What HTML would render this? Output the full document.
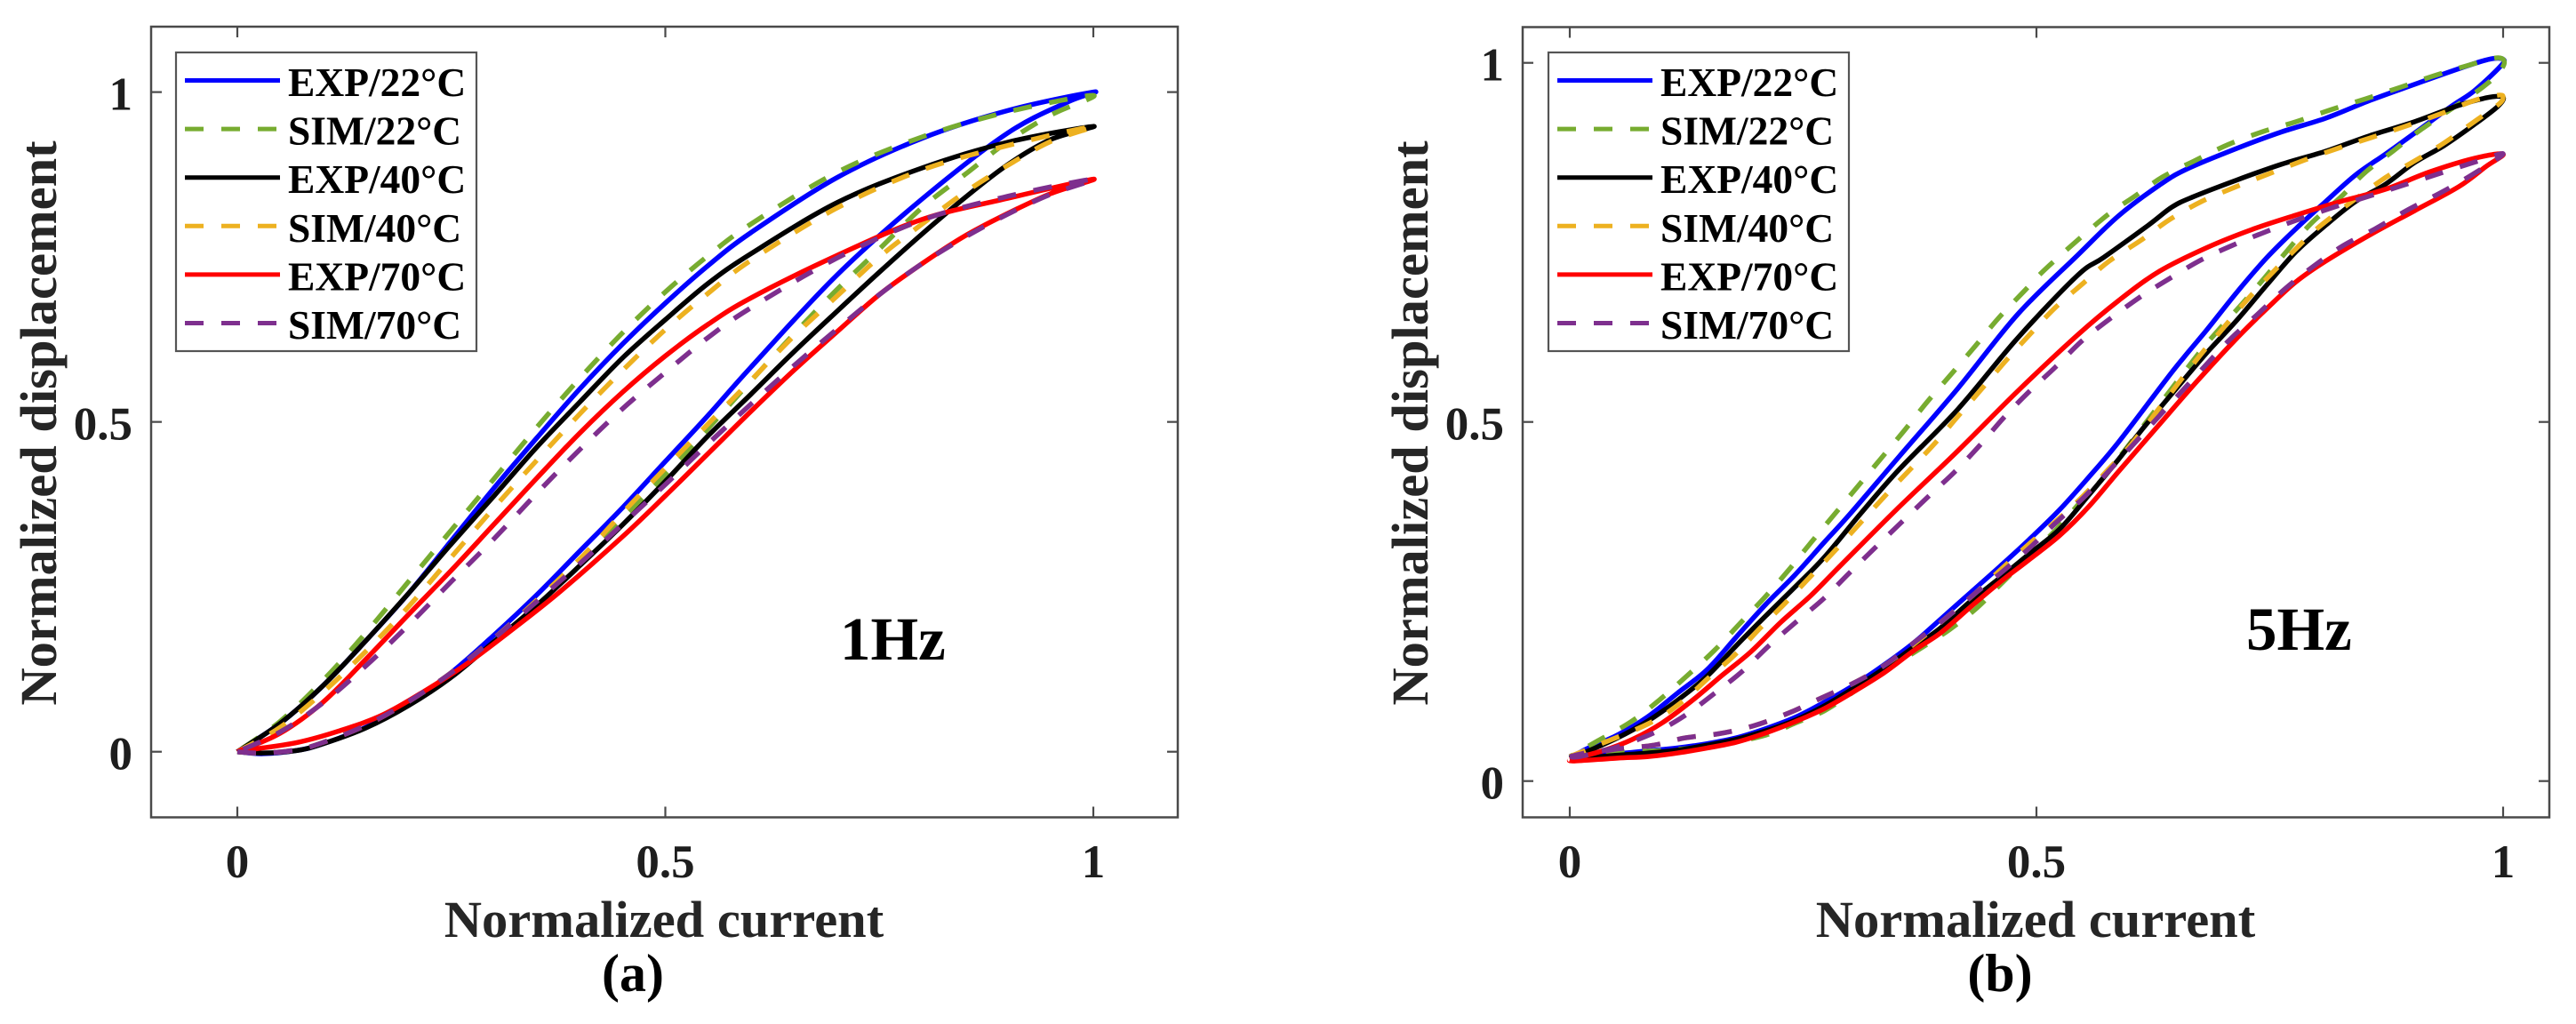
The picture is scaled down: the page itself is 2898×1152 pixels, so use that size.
<!DOCTYPE html>
<html lang="en">
<head>
<meta charset="utf-8">
<title>Normalized displacement vs normalized current</title>
<style>
html,body{margin:0;padding:0;background:#fff;}
svg{display:block;}
text{font-family:"Liberation Serif","Noto Serif CJK SC",serif;font-weight:bold;}
</style>
</head>
<body>
<svg id="figure" xmlns="http://www.w3.org/2000/svg" width="2898" height="1152" viewBox="0 0 2898 1152"></svg>
<script>
// Tick labels and legend entries
const tickValues = [0, 0.5, 1];
const seriesNames = ['EXP/22°C', 'SIM/22°C', 'EXP/40°C', 'SIM/40°C', 'EXP/70°C', 'SIM/70°C'];

// Panel (a), 1 Hz: [current, displacement], lower and upper branch of each loop
const a_exp22_lo = [[0,0],[.03,-.003],[.07,.002],[.1,.012],[.15,.037],[.2,.073],[.25,.12],[.3,.177],[.35,.238],[.4,.304],[.45,.37],[.5,.44],[.55,.51],[.6,.583],[.7,.722],[.8,.838],[.9,.938],[.97,.985],[1,1]];
const a_exp22_up = [[0,0],[.05,.043],[.1,.1],[.15,.168],[.2,.24],[.25,.32],[.3,.4],[.35,.476],[.4,.55],[.45,.618],[.5,.68],[.55,.737],[.6,.787],[.7,.87],[.8,.93],[.9,.972],[1,1]];
const a_sim22_lo = [[0,0],[.03,-.002],[.07,.003],[.1,.014],[.15,.04],[.2,.076],[.25,.12],[.3,.172],[.35,.23],[.4,.292],[.45,.354],[.5,.42],[.55,.49],[.6,.562],[.65,.633],[.7,.7],[.75,.762],[.8,.825],[.85,.875],[.9,.925],[.95,.965],[1,.995]];
const a_sim22_up = [[0,0],[.05,.046],[.1,.108],[.15,.18],[.2,.258],[.25,.336],[.3,.414],[.35,.492],[.4,.566],[.45,.635],[.5,.697],[.55,.752],[.6,.8],[.7,.878],[.8,.932],[.9,.97],[1,.995]];
const a_exp40_lo = [[0,0],[.03,-.002],[.07,.002],[.1,.012],[.15,.036],[.2,.07],[.25,.113],[.3,.167],[.35,.222],[.4,.282],[.45,.344],[.5,.41],[.55,.479],[.6,.542],[.65,.606],[.7,.667],[.75,.727],[.8,.785],[.85,.84],[.9,.89],[.95,.928],[1,.948]];
const a_exp40_up = [[0,0],[.05,.043],[.1,.1],[.15,.168],[.2,.24],[.25,.315],[.3,.388],[.35,.462],[.4,.53],[.45,.597],[.5,.655],[.55,.71],[.6,.755],[.7,.832],[.8,.885],[.9,.924],[1,.948]];
const a_sim40_lo = [[0,0],[.03,-.002],[.07,.003],[.1,.014],[.15,.04],[.2,.076],[.25,.12],[.3,.172],[.35,.23],[.4,.292],[.45,.362],[.5,.43],[.55,.497],[.6,.563],[.65,.63],[.7,.69],[.75,.75],[.8,.8],[.85,.848],[.9,.889],[.95,.925],[1,.948]];
const a_sim40_up = [[0,0],[.05,.037],[.1,.09],[.15,.152],[.2,.22],[.25,.295],[.3,.37],[.35,.442],[.4,.512],[.45,.578],[.5,.64],[.55,.695],[.6,.745],[.7,.824],[.8,.882],[.9,.919],[1,.948]];
const a_exp70_lo = [[0,0],[.02,.004],[.07,.014],[.12,.032],[.17,.056],[.22,.093],[.27,.135],[.33,.194],[.38,.246],[.45,.326],[.5,.388],[.55,.452],[.6,.516],[.65,.578],[.7,.636],[.75,.693],[.8,.74],[.85,.782],[.9,.816],[.95,.846],[1,.868]];
const a_exp70_up = [[0,0],[.05,.028],[.1,.075],[.15,.14],[.2,.208],[.25,.275],[.3,.345],[.35,.415],[.4,.483],[.45,.545],[.5,.6],[.55,.648],[.6,.688],[.7,.752],[.8,.807],[.9,.839],[1,.868]];
const a_sim70_lo = [[0,0],[.03,-.002],[.07,.003],[.1,.014],[.15,.04],[.2,.076],[.25,.12],[.3,.172],[.35,.228],[.4,.285],[.45,.345],[.5,.405],[.55,.467],[.6,.527],[.65,.585],[.7,.64],[.75,.693],[.8,.74],[.85,.78],[.9,.815],[.95,.845],[1,.868]];
const a_sim70_up = [[0,0],[.05,.03],[.1,.074],[.15,.13],[.2,.192],[.25,.258],[.3,.323],[.35,.392],[.4,.458],[.45,.52],[.5,.575],[.55,.628],[.6,.673],[.7,.748],[.8,.806],[.9,.842],[1,.868]];

// Panel (b), 5 Hz
const b_exp22_lo = [[0,.032],[.02,.036],[.051,.038],[.083,.042],[.115,.046],[.147,.052],[.178,.06],[.21,.073],[.242,.089],[.273,.11],[.305,.134],[.337,.162],[.369,.193],[.397,.225],[.429,.262],[.461,.299],[.492,.336],[.525,.378],[.556,.423],[.588,.472],[.639,.559],[.658,.59],[.683,.629],[.715,.681],[.747,.729],[.778,.769],[.81,.807],[.842,.844],[.874,.873],[.905,.902],[.944,.939],[.969,.961],[.997,.995],[1,1.005]];
const b_exp22_up = [[0,.032],[.02,.046],[.051,.064],[.083,.089],[.115,.122],[.147,.155],[.178,.2],[.21,.246],[.242,.288],[.273,.333],[.299,.37],[.353,.452],[.416,.547],[.48,.65],[.544,.732],[.588,.787],[.632,.83],[.661,.852],[.715,.881],[.763,.904],[.81,.923],[.858,.948],[.905,.97],[.953,.992],[.985,1.005],[1,1.005]];
const b_sim22_lo = [[0,.034],[.01,.034],[.047,.04],[.09,.042],[.123,.045],[.16,.05],[.21,.064],[.242,.081],[.273,.098],[.305,.125],[.337,.153],[.375,.184],[.407,.211],[.437,.242],[.464,.277],[.521,.35],[.55,.393],[.577,.431],[.667,.584],[.693,.625],[.72,.664],[.744,.7],[.769,.739],[.794,.776],[.826,.813],[.851,.846],[.882,.877],[.913,.908],[.978,.966],[1,.995]];
const b_sim22_up = [[0,.034],[.03,.056],[.066,.083],[.097,.114],[.126,.147],[.155,.182],[.182,.219],[.209,.256],[.234,.293],[.259,.333],[.309,.411],[.334,.45],[.359,.489],[.383,.528],[.409,.567],[.434,.605],[.459,.644],[.486,.681],[.513,.717],[.572,.784],[.604,.813],[.635,.841],[.67,.864],[.705,.886],[.742,.904],[.778,.918],[.816,.935],[.853,.95],[.89,.966],[.926,.982],[.964,.997],[.995,1.007],[1,.995]];
const b_exp40_lo = [[0,.032],[.02,.033],[.051,.036],[.083,.039],[.115,.043],[.147,.05],[.178,.058],[.21,.07],[.242,.085],[.273,.105],[.305,.13],[.337,.157],[.369,.187],[.397,.213],[.429,.25],[.461,.283],[.492,.316],[.525,.351],[.556,.398],[.588,.448],[.616,.494],[.658,.559],[.683,.597],[.715,.642],[.747,.691],[.778,.737],[.81,.774],[.842,.807],[.874,.831],[.905,.861],[.937,.885],[.969,.914],[.994,.939],[1,.952]];
const b_exp40_up = [[0,.032],[.02,.042],[.051,.06],[.083,.083],[.115,.112],[.147,.146],[.178,.188],[.21,.23],[.242,.271],[.273,.312],[.312,.373],[.353,.434],[.416,.518],[.48,.617],[.544,.704],[.572,.729],[.62,.774],[.645,.799],[.667,.813],[.715,.837],[.763,.859],[.81,.877],[.858,.899],[.905,.918],[.953,.941],[.985,.952],[1,.952]];
const b_sim40_lo = [[0,.034],[.01,.034],[.047,.044],[.09,.05],[.123,.06],[.16,.066],[.197,.077],[.235,.095],[.27,.116],[.305,.137],[.337,.161],[.368,.19],[.403,.227],[.434,.261],[.463,.296],[.492,.33],[.521,.362],[.55,.397],[.577,.434],[.604,.473],[.67,.584],[.699,.629],[.725,.669],[.75,.704],[.778,.741],[.807,.776],[.869,.836],[.902,.861],[.935,.887],[.969,.918],[.995,.942],[1,.952]];
const b_sim40_up = [[0,.034],[.03,.05],[.086,.081],[.12,.11],[.148,.143],[.177,.176],[.204,.213],[.231,.248],[.258,.285],[.285,.322],[.337,.396],[.364,.433],[.391,.47],[.416,.508],[.442,.547],[.467,.585],[.493,.622],[.52,.659],[.55,.693],[.578,.724],[.612,.753],[.643,.782],[.677,.807],[.713,.827],[.75,.846],[.786,.864],[.823,.881],[.859,.896],[.896,.912],[.933,.929],[.97,.948],[.995,.955],[1,.952]];
const b_exp70_lo = [[0,.03],[.005,.028],[.051,.032],[.083,.034],[.115,.039],[.147,.046],[.178,.054],[.21,.067],[.242,.083],[.273,.101],[.305,.125],[.337,.151],[.369,.182],[.397,.206],[.429,.242],[.461,.277],[.492,.308],[.525,.342],[.556,.382],[.588,.431],[.63,.494],[.673,.558],[.715,.617],[.747,.658],[.778,.695],[.81,.724],[.858,.761],[.905,.794],[.953,.828],[.982,.856],[1,.873]];
const b_exp70_up = [[0,.03],[.035,.042],[.067,.058],[.099,.081],[.131,.112],[.163,.147],[.194,.18],[.226,.221],[.258,.258],[.29,.3],[.35,.378],[.416,.46],[.48,.543],[.544,.621],[.588,.669],[.632,.71],[.683,.743],[.731,.768],[.778,.788],[.826,.807],[.874,.824],[.921,.848],[.969,.867],[1,.873]];
const b_sim70_lo = [[0,.034],[.01,.034],[.047,.044],[.09,.05],[.123,.06],[.16,.066],[.197,.077],[.235,.095],[.27,.116],[.305,.137],[.337,.161],[.372,.196],[.403,.227],[.434,.261],[.463,.291],[.493,.325],[.521,.36],[.55,.394],[.577,.431],[.604,.469],[.682,.58],[.709,.617],[.737,.65],[.766,.685],[.796,.716],[.828,.745],[.863,.769],[.896,.794],[.93,.817],[.964,.842],[1,.873]];
const b_sim70_up = [[0,.034],[.02,.04],[.047,.046],[.09,.067],[.123,.091],[.155,.122],[.185,.153],[.213,.188],[.242,.221],[.272,.254],[.299,.289],[.328,.326],[.384,.396],[.412,.43],[.439,.467],[.465,.506],[.492,.542],[.52,.576],[.548,.612],[.573,.638],[.61,.673],[.643,.7],[.677,.726],[.712,.747],[.748,.766],[.785,.784],[.821,.8],[.858,.815],[.894,.83],[.932,.846],[.97,.862],[1,.873]];

const NS = 'http://www.w3.org/2000/svg';
const fig = document.getElementById('figure');
const COLORS = ['#0000ff', '#77ac30', '#000000', '#edb120', '#ff0000', '#7e2f8e'];

function make(tag, attrs, parent) {
  const el = document.createElementNS(NS, tag);
  for (const k in attrs) el.setAttribute(k, attrs[k]);
  parent.appendChild(el);
  return el;
}

function smoothPath(pts) {
  let d = 'M' + pts[0][0].toFixed(2) + ' ' + pts[0][1].toFixed(2);
  for (let i = 0; i < pts.length - 1; i++) {
    const p0 = pts[Math.max(i - 1, 0)], p1 = pts[i], p2 = pts[i + 1], p3 = pts[Math.min(i + 2, pts.length - 1)];
    const c1x = p1[0] + (p2[0] - p0[0]) / 6, c1y = p1[1] + (p2[1] - p0[1]) / 6;
    const c2x = p2[0] - (p3[0] - p1[0]) / 6, c2y = p2[1] - (p3[1] - p1[1]) / 6;
    d += 'C' + c1x.toFixed(2) + ' ' + c1y.toFixed(2) + ' ' + c2x.toFixed(2) + ' ' + c2y.toFixed(2) + ' ' + p2[0].toFixed(2) + ' ' + p2[1].toFixed(2);
  }
  return d;
}

function drawPanel(cfg) {
  const g = make('g', {}, fig);
  
  
  const xScale = v => cfg.x0 + v * (cfg.x1 - cfg.x0);
  const yScale = v => cfg.y0 + v * (cfg.y1 - cfg.y0);

  // Curves
  cfg.series.forEach((s, i) => {
    const loop = s[0].concat(s[1].slice().reverse().slice(1));
    const pts = loop.map(p => [xScale(p[0]), yScale(p[1])]);
    const path = make('path', {d: smoothPath(pts), fill: 'none', stroke: COLORS[i], 'stroke-width': 5.5, 'stroke-linejoin': 'round', 'stroke-dasharray': i % 2 ? '21 20' : 'none'}, g);
    
    
  });

  // Axes box
  const box = make('rect', {x: cfg.left, y: cfg.top, width: cfg.right - cfg.left, height: cfg.bottom - cfg.top, fill: 'none', stroke: '#4a4a4a', 'stroke-width': 2.5}, g);
  
  

  // Ticks and tick labels
  tickValues.forEach(v => {
    const X = xScale(v), Y = yScale(v);
    [[X, cfg.bottom, X, cfg.bottom - 12], [X, cfg.top, X, cfg.top + 12], [cfg.left, Y, cfg.left + 12, Y], [cfg.right, Y, cfg.right - 12, Y]].forEach(t => {
      const tk = make('line', {x1: t[0], y1: t[1], x2: t[2], y2: t[3], stroke: '#4a4a4a', 'stroke-width': 2.2}, g);
      
      
    });
    const xl = make('text', {x: X, y: 987, 'text-anchor': 'middle', 'font-size': 53, fill: '#1e1e1e'}, g);
    xl.textContent = String(v);
    
    
    const yl = make('text', {x: cfg.yTickRight, y: Y + 20, 'text-anchor': 'end', 'font-size': 53, fill: '#1e1e1e'}, g);
    yl.textContent = String(v);
    
    
  });

  // Axis titles
  const xt = make('text', {x: cfg.xTitleX, y: 1054, 'text-anchor': 'middle', 'font-size': 58.5, fill: '#262626'}, g);
  xt.textContent = 'Normalized current';
  
  
  const yt = make('text', {x: 0, y: 0, 'text-anchor': 'middle', 'font-size': 58.5, fill: '#262626', transform: 'translate(' + cfg.yTitleX + ' 476) rotate(-90)'}, g);
  yt.textContent = 'Normalized displacement';
  
  

  // Panel caption and frequency note
  const cap = make('text', {x: cfg.capX, y: 1115, 'text-anchor': 'middle', 'font-size': 60, fill: '#000'}, g);
  cap.textContent = cfg.caption;
  
  
  const note = make('text', {x: cfg.noteX, y: cfg.noteY, 'font-size': 69, fill: '#000'}, g);
  note.textContent = cfg.note;
  
  

  // Legend
  const lg = make('g', {}, g);
  
  
  const lb = make('rect', {x: cfg.legX, y: 59, width: 338, height: 336, fill: '#fff', stroke: '#555', 'stroke-width': 2.2}, lg);
  
  
  seriesNames.forEach((name, i) => {
    const rowY = 90.5 + i * 54.6;
    const ln = make('line', {x1: cfg.legX + 10, x2: cfg.legX + 117, y1: rowY, y2: rowY, stroke: COLORS[i], 'stroke-width': 5, 'stroke-dasharray': i % 2 ? '21 20' : 'none'}, lg);
    
    
    const tx = make('text', {x: cfg.legX + 126, y: rowY + 17.5, 'font-size': 45.5, fill: '#000'}, lg);
    tx.textContent = name;
    
    
  });
}

drawPanel({
  id: 'a', left: 170, right: 1325, top: 30, bottom: 919.5,
  x0: 267, x1: 1230, y0: 845.7, y1: 103.6,
  yTickRight: 149, xTitleX: 747, yTitleX: 63, capX: 712, caption: '(a)',
  note: '1Hz', noteX: 945, noteY: 742, legX: 198,
  series: [[a_exp22_lo, a_exp22_up], [a_sim22_lo, a_sim22_up], [a_exp40_lo, a_exp40_up], [a_sim40_lo, a_sim40_up], [a_exp70_lo, a_exp70_up], [a_sim70_lo, a_sim70_up]]
});
drawPanel({
  id: 'b', left: 1713, right: 2868, top: 30.5, bottom: 919.5,
  x0: 1766, x1: 2816, y0: 878.7, y1: 70.7,
  yTickRight: 1692, xTitleX: 2290, yTitleX: 1606, capX: 2250, caption: '(b)',
  note: '5Hz', noteX: 2527, noteY: 731, legX: 1742,
  series: [[b_exp22_lo, b_exp22_up], [b_sim22_lo, b_sim22_up], [b_exp40_lo, b_exp40_up], [b_sim40_lo, b_sim40_up], [b_exp70_lo, b_exp70_up], [b_sim70_lo, b_sim70_up]]
});
</script>
</body>
</html>
